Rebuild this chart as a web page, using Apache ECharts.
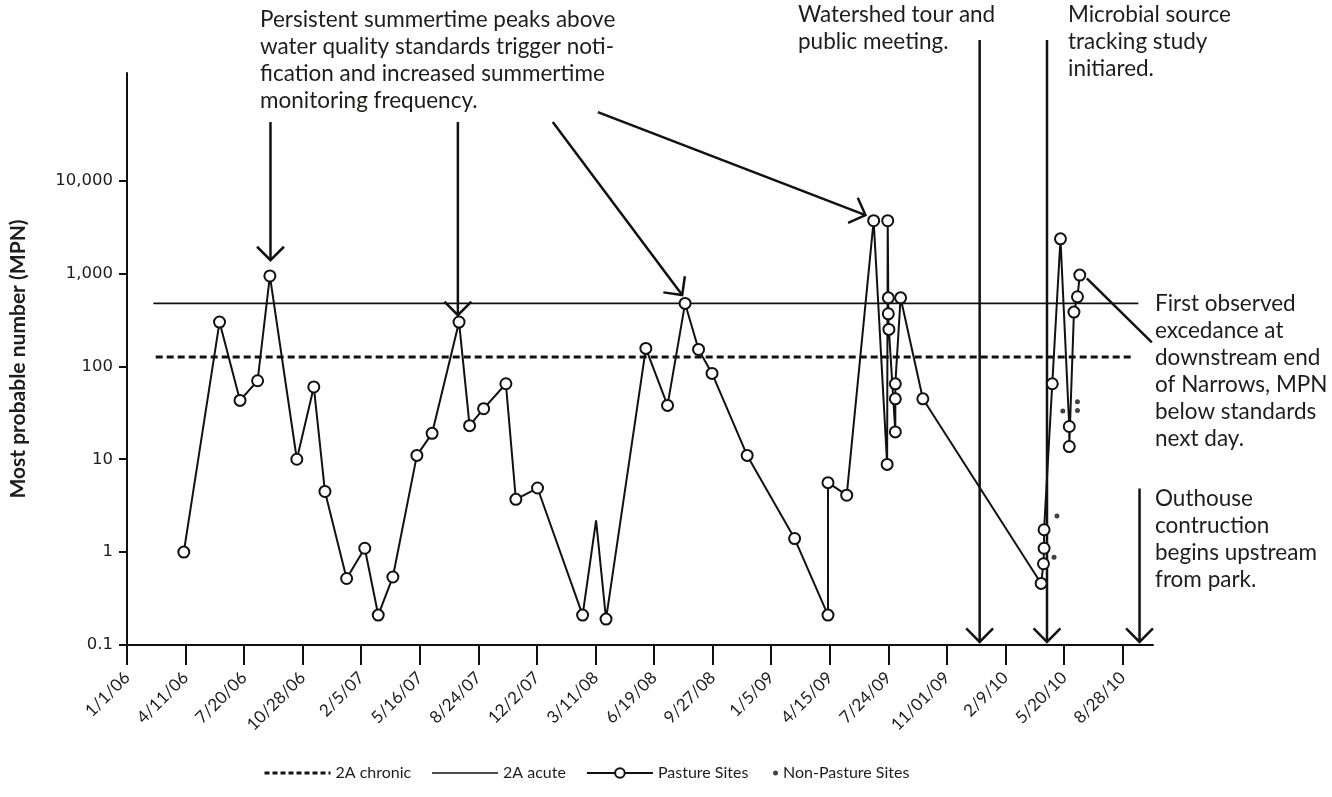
<!DOCTYPE html>
<html><head><meta charset="utf-8">
<script src="https://cdn.jsdelivr.net/npm/echarts@6.0.0/dist/echarts.min.js"></script>
<style>html,body{margin:0;padding:0;background:#fff}#chart{width:1332px;height:797px}</style>
</head><body><div id="chart"></div>
<script>
// ---------- data ----------
const xTickLabels = ['1/1/06','4/11/06','7/20/06','10/28/06','2/5/07','5/16/07','8/24/07','12/2/07','3/11/08','6/19/08','9/27/08','1/5/09','4/15/09','7/24/09','11/01/09','2/9/10','5/20/10','8/28/10'];
const yTickValues = [0.1, 1, 10, 100, 1000, 10000];
const yTickLabels = ['0.1', '1', '10', '100', '1,000', '10,000'];

const pastureDates = ['2006-04-08','2006-06-08','2006-07-13','2006-08-12','2006-09-02','2006-10-18','2006-11-16','2006-12-05',
  '2007-01-11','2007-02-11','2007-03-06','2007-03-31','2007-05-11','2007-06-06','2007-07-22','2007-08-09','2007-09-02','2007-10-10','2007-10-27','2007-12-03',
  '2008-02-18','2008-03-12','2008-03-29','2008-06-05','2008-07-12','2008-08-11','2008-09-03','2008-09-26','2008-11-25',
  '2009-02-14','2009-04-12','2009-04-12','2009-05-14','2009-06-29','2009-07-22','2009-07-23','2009-07-24','2009-07-24','2009-07-25','2009-08-05','2009-08-05','2009-08-05','2009-08-14','2009-09-21',
  '2010-04-11','2010-04-15','2010-04-16','2010-04-16','2010-04-30','2010-05-14','2010-05-29','2010-05-29','2010-06-06','2010-06-12','2010-06-16'];
const pastureMPN = [1, 300, 43, 70, 940, 10, 60, 4.5,
  0.52, 1.1, 0.21, 0.54, 11, 19, 300, 23, 35, 65, 3.7, 4.9,
  0.21, 2.2, 0.19, 156, 38, 476, 152, 84, 11,
  1.4, 0.21, 5.6, 4.1, 3700, 8.8, 3700, 547, 368, 250, 19.7, 44.7, 64.8, 547, 44.7,
  0.46, 0.75, 1.1, 1.74, 65, 2360, 22.5, 13.7, 384, 561, 960];
const pastureNoMarkerDates = ['2008-03-12'];

const nonPastureDates = ['2010-05-03','2010-05-08','2010-05-18','2010-06-12','2010-06-12'];
const nonPastureMPN = [0.88, 2.45, 33, 41.5, 33.5];

const chronicStandard = 126;
const chronicSpan = ['2006-02-19', '2010-09-11'];
const acuteStandard = 476;
const acuteSpan = ['2006-02-15', '2010-09-24'];

// annotation anchors in data space [date, MPN]
const arrowAnchors = [
  { from: ['2006-09-03', 42700], to: ['2006-09-03', 1390] },
  { from: ['2007-07-20', 42700], to: ['2007-07-20', 356] },
  { from: ['2007-12-29', 42700], to: ['2008-08-06', 585] },
  { from: ['2008-03-15', 54700], to: ['2009-06-15', 4250] },
  { from: ['2009-12-27', 326000], to: ['2009-12-27', 0.108] },
  { from: ['2010-04-21', 326000], to: ['2010-04-21', 0.108] },
  { from: ['2010-09-26', 4.84], to: ['2010-09-26', 0.108] }
];
const leaderAnchor = { from: ['2010-06-28', 885], to: ['2010-10-17', 181] };

const notes = [
  { text: 'Persistent summertime peaks above\nwater quality standards trigger noti-\nfication and increased summertime\nmonitoring frequency.', x: 260, y: 6 },
  { text: 'Watershed tour and\npublic meeting.', x: 798, y: 1 },
  { text: 'Microbial source\ntracking study\ninitiared.', x: 1068, y: 1 },
  { text: 'First observed\nexcedance at\ndownstream end\nof Narrows, MPN\nbelow standards\nnext day.', x: 1155, y: 290 },
  { text: 'Outhouse\ncontruction\nbegins upstream\nfrom park.', x: 1155, y: 485 }
];

// ---------- helpers ----------
const START = Date.UTC(2006, 0, 1);
function dayOf(s) { const p = s.split('-').map(Number); return (Date.UTC(p[0], p[1] - 1, p[2]) - START) / 86400000; }
const INK = '#111';
const TXT = '#1d1d1b';

const pastureData = pastureDates.map((d, i) => {
  const item = { value: [dayOf(d), pastureMPN[i]] };
  if (pastureNoMarkerDates.includes(d)) item.symbol = 'none';
  return item;
});
const nonPastureData = nonPastureDates.map((d, i) => [dayOf(d), nonPastureMPN[i]]);
const xTickValues = xTickLabels.map((_, i) => i * 100);

const chart = echarts.init(document.getElementById('chart'), null, { renderer: 'canvas' });
chart.setOption({
  backgroundColor: '#fff',
  animation: false,
  grid: { left: 126, right: 179, top: 73, bottom: 152, containLabel: false },
  xAxis: {
    type: 'value', min: 0, max: 1752, interval: 100,
    splitLine: { show: false },
    axisLine: { lineStyle: { color: INK, width: 2 } },
    axisTick: { customValues: xTickValues, length: 20, lineStyle: { color: INK, width: 2 } },
    axisLabel: {
      customValues: xTickValues, rotate: 45, margin: 30,
      fontFamily: 'Lato', fontSize: 17, color: TXT,
      formatter: v => { const i = Math.round(v / 100); return xTickLabels[i] || ''; }
    }
  },
  yAxis: {
    type: 'log', logBase: 10, min: 0.1, max: 144000,
    name: 'Most probable number (MPN)', nameLocation: 'middle', nameGap: 98,
    nameTextStyle: { fontFamily: 'Lato', fontWeight: 'bold', fontSize: 21, color: TXT },
    splitLine: { show: false },
    axisLine: { lineStyle: { color: INK, width: 2 } },
    axisTick: { customValues: yTickValues, length: 8, lineStyle: { color: INK, width: 2 } },
    axisLabel: {
      customValues: yTickValues, margin: 14,
      fontFamily: 'DejaVu Sans', fontSize: 16.5, color: TXT,
      formatter: v => { let best = 0; yTickValues.forEach((t, i) => { if (Math.abs(Math.log10(t) - Math.log10(v)) < Math.abs(Math.log10(yTickValues[best]) - Math.log10(v))) best = i; }); return yTickLabels[best]; }
    }
  },
  legend: [
    {
      data: [
        { name: '2A chronic', itemStyle: { opacity: 0 }, lineStyle: { width: 3, type: [5, 3] } },
        { name: '2A acute', itemStyle: { opacity: 0 }, lineStyle: { width: 1.6 } },
        { name: 'Pasture Sites' }
      ],
      left: 258, top: 760,
      itemWidth: 66, itemHeight: 12, itemGap: 20, selectedMode: false,
      textStyle: { fontFamily: 'Lato', fontSize: 16, color: TXT }
    },
    {
      data: ['Non-Pasture Sites'], left: 768, top: 760,
      itemWidth: 5, itemHeight: 5, selectedMode: false,
      textStyle: { fontFamily: 'Lato', fontSize: 16, color: TXT }
    }
  ],
  series: [
    {
      name: '2A chronic', type: 'line', symbol: 'none', silent: true, z: 1,
      data: [[dayOf(chronicSpan[0]), chronicStandard], [dayOf(chronicSpan[1]), chronicStandard]],
      lineStyle: { color: INK, width: 3, type: [7, 4] }, itemStyle: { color: INK }
    },
    {
      name: '2A acute', type: 'line', symbol: 'none', silent: true, z: 1,
      data: [[dayOf(acuteSpan[0]), acuteStandard], [dayOf(acuteSpan[1]), acuteStandard]],
      lineStyle: { color: INK, width: 1.6 }, itemStyle: { color: INK }
    },
    {
      name: 'Pasture Sites', type: 'line', z: 3, symbol: 'circle', symbolSize: 11, showAllSymbol: true,
      data: pastureData,
      lineStyle: { color: INK, width: 2 },
      itemStyle: { color: '#fff', borderColor: INK, borderWidth: 2 }
    },
    {
      name: 'Non-Pasture Sites', type: 'scatter', z: 4, symbol: 'circle', symbolSize: 5,
      data: nonPastureData, itemStyle: { color: INK }
    }
  ]
});

// ---------- annotations ----------
function px(anchor) { return chart.convertToPixel({ gridIndex: 0 }, [dayOf(anchor[0]), anchor[1]]); }
function arrow(p0, p1, head) {
  const dx = p1[0] - p0[0], dy = p1[1] - p0[1], L = Math.hypot(dx, dy);
  const bx = -dx / L, by = -dy / L, a = Math.PI / 4, len = 19;
  const h1 = [p1[0] + len * (bx * Math.cos(a) - by * Math.sin(a)), p1[1] + len * (bx * Math.sin(a) + by * Math.cos(a))];
  const h2 = [p1[0] + len * (bx * Math.cos(a) + by * Math.sin(a)), p1[1] + len * (-bx * Math.sin(a) + by * Math.cos(a))];
  const els = [{ type: 'line', shape: { x1: p0[0], y1: p0[1], x2: p1[0], y2: p1[1] }, style: { stroke: INK, lineWidth: 2.5 } }];
  if (head) els.push({ type: 'polyline', shape: { points: [h1, p1, h2] }, style: { stroke: INK, lineWidth: 2.5, fill: null } });
  return els;
}
const graphics = [];
arrowAnchors.forEach(a => graphics.push(...arrow(px(a.from), px(a.to), true)));
graphics.push(...arrow(px(leaderAnchor.from), px(leaderAnchor.to), false));
notes.forEach(n => graphics.push({
  type: 'text', x: n.x, y: n.y,
  style: { text: n.text, fontFamily: 'Lato', fontSize: 22.5, lineHeight: 27, fill: TXT, align: 'left', verticalAlign: 'top' }
}));
chart.setOption({ graphic: graphics });
</script>
</body></html>
